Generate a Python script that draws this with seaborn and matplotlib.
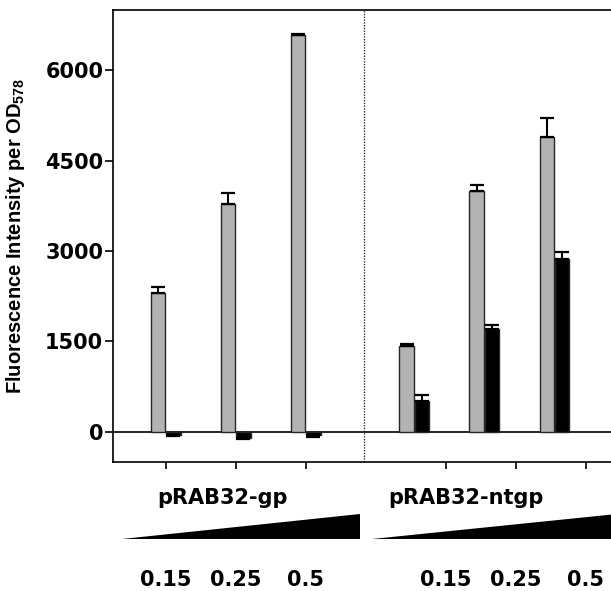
import numpy as np
import pandas as pd
import matplotlib
matplotlib.use('Agg')
import matplotlib.pyplot as plt
import matplotlib.transforms as mtransforms
import seaborn as sns

# Constructs and inducer concentrations
constructs = ['pRAB32-gp', 'pRAB32-ntgp']
concentrations = ['0.15', '0.25', '0.5']
series = ['grey', 'black']

# Fluorescence intensity per OD578 (mean, upper error)
gp_grey = [2300, 3780, 6580]
gp_grey_err = [100, 180, 30]
gp_black = [-50, -110, -60]
gp_black_err = [25, 10, 25]
ntgp_grey = [1420, 4000, 4900]
ntgp_grey_err = [30, 100, 300]
ntgp_black = [520, 1700, 2870]
ntgp_black_err = [90, 80, 120]

sns.set_style('ticks')
plt.rcParams['font.family'] = ['DejaVu Sans']
plt.rcParams['font.weight'] = 'bold'
plt.rcParams['axes.edgecolor'] = 'black'
plt.rcParams['text.color'] = 'black'
plt.rcParams['axes.labelcolor'] = 'black'
plt.rcParams['xtick.color'] = 'black'
plt.rcParams['ytick.color'] = 'black'
plt.rcParams['mathtext.fontset'] = 'custom'
plt.rcParams['mathtext.rm'] = 'Liberation Sans:bold'
plt.rcParams['mathtext.bf'] = 'Liberation Sans:bold'
plt.rcParams['mathtext.default'] = 'bf'

# group centres: first construct at 0,1,2 ; second shifted right of the divider
group_pos = np.concatenate([np.arange(3), np.arange(3) + 3.55])
tick_pos = np.concatenate([np.arange(3), np.arange(3) + 4])

rows = []
for name, vals, errs in [('grey', gp_grey + ntgp_grey, gp_grey_err + ntgp_grey_err),
                         ('black', gp_black + ntgp_black, gp_black_err + ntgp_black_err)]:
    for pos, v, e in zip(group_pos, vals, errs):
        rows.append({'pos': pos, 'series': name, 'value': v, 'err': e})
df = pd.DataFrame(rows)

fig = plt.figure(figsize=(6.11, 5.91), dpi=100)
ax = fig.add_axes([113 / 611, 129 / 591, 1 - 113 / 611, 452 / 591])

ax.axhline(0, color='black', lw=1.2, zorder=0.5)
sns.barplot(data=df, x='pos', y='value', hue='series', hue_order=series,
            palette={'grey': '#b3b3b3', 'black': 'black'}, native_scale=True,
            width=0.44, gap=0.08, dodge=True, errorbar=None,
            edgecolor='#262626', linewidth=1.0, legend=False, ax=ax)

# one-sided error bars, away from zero
for p, (_, r) in zip(ax.patches, df.iterrows()):
    x = p.get_x() + p.get_width() / 2
    lo, hi = (0, r['err']) if r['value'] >= 0 else (r['err'], 0)
    ax.errorbar(x, r['value'], yerr=[[lo], [hi]], fmt='none', ecolor='black',
                elinewidth=1.5, capsize=5.2, capthick=1.6, zorder=3)

ax.axvline(2.83, color='#333333', linestyle=(0, (1, 1)), lw=1)

ax.set_xlim(-0.753, 6.36)
ax.set_ylim(-500, 7000)
ax.set_yticks([0, 1500, 3000, 4500, 6000])
ax.set_xticks(tick_pos, labels=concentrations * 2)
ax.tick_params(axis='x', length=5, width=1.2, pad=73, labelsize=15)
ax.tick_params(axis='y', length=5.5, width=1.2, pad=1.5, labelsize=15)
for s in ['left', 'top', 'bottom']:
    ax.spines[s].set_linewidth(1.2)
ax.spines['right'].set_visible(False)
ax.set_xlabel('')
ax.set_ylabel('Fluorescence Intensity per OD$_{578}$', fontsize=14.5,
              fontfamily='Liberation Sans', fontweight='bold')
ax.yaxis.set_label_coords(-0.173, 0.5)

# construct names and concentration wedges under the axis
trans = mtransforms.blended_transform_factory(ax.transData, ax.transAxes)
for name, cx, (x0, x1) in zip(constructs, [0.81, 4.29], [(-0.62, 2.77), (2.94, 6.45)]):
    ax.text(cx, -0.080, name, transform=trans, ha='center', va='center',
            fontsize=15, fontweight='bold')
    ax.fill([x0, x1, x1], [-0.170, -0.170, -0.115], transform=trans,
            color='black', clip_on=False, lw=0)

fig.savefig('out.png', dpi=100)
